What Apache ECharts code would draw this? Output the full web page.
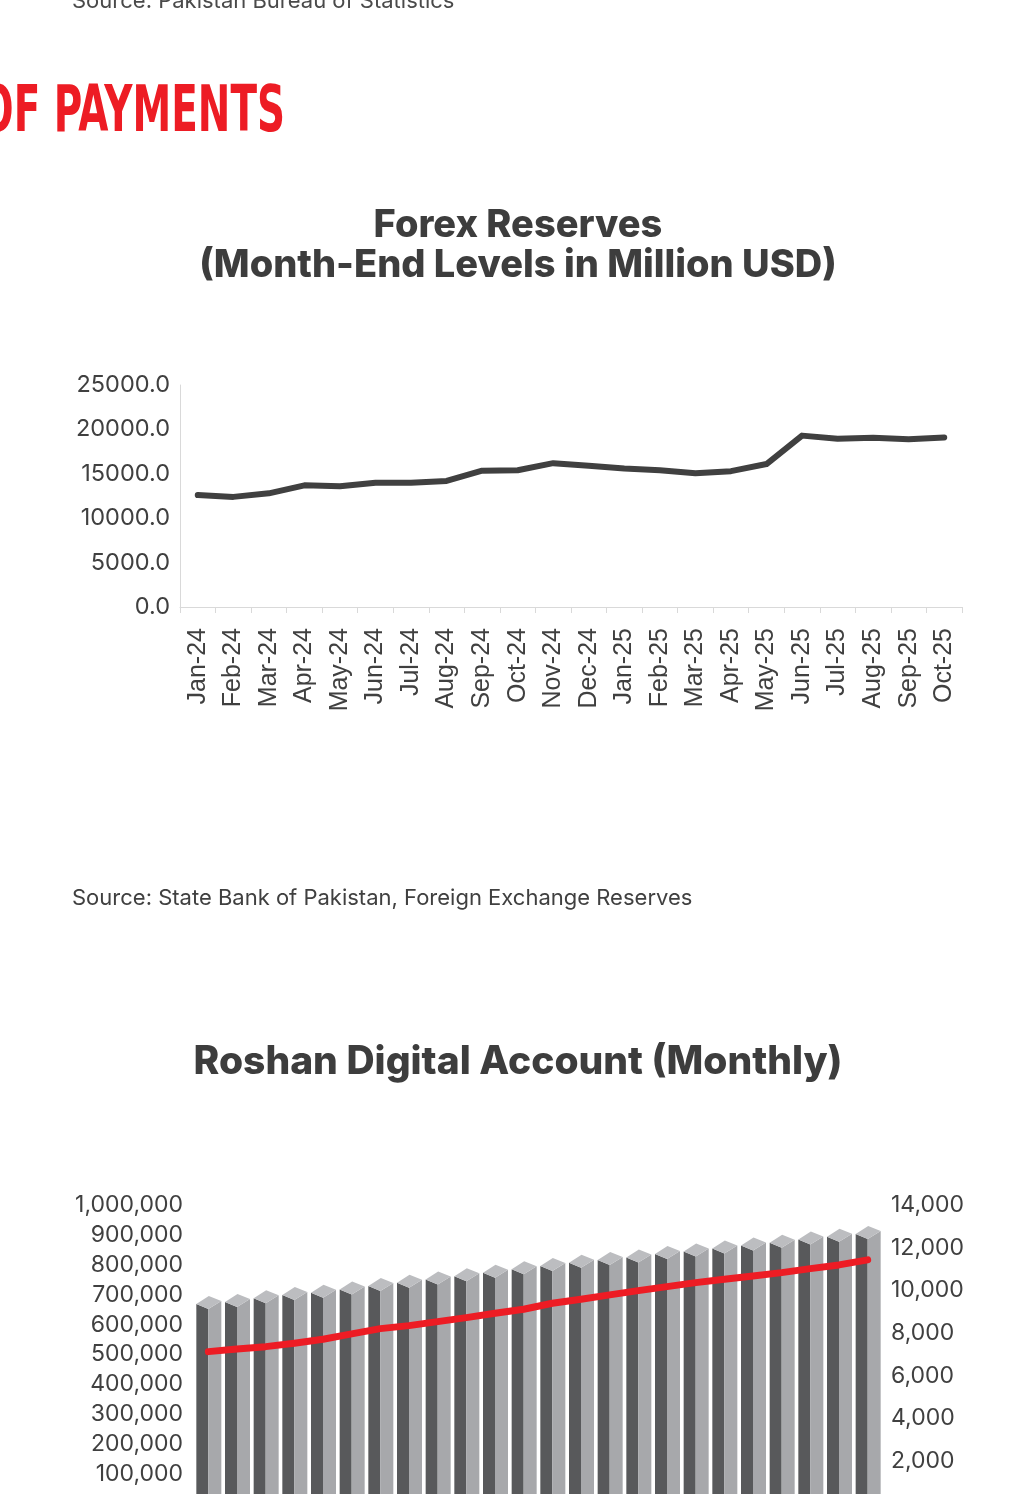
<!DOCTYPE html>
<html>
<head>
<meta charset="utf-8">
<script src="https://cdn.jsdelivr.net/npm/echarts@6/dist/echarts.min.js"></script>
<style>
  html, body { margin: 0; padding: 0; background: #fff; overflow: hidden; height: 1494px; }
  #page { width: 1036px; height: 1540px; }
</style>
</head>
<body>
<div id="page"></div>
<script>
// forex reserves, month-end, million USD
const forexMonths = ['Jan-24', 'Feb-24', 'Mar-24', 'Apr-24', 'May-24', 'Jun-24', 'Jul-24', 'Aug-24',
  'Sep-24', 'Oct-24', 'Nov-24', 'Dec-24', 'Jan-25', 'Feb-25', 'Mar-25', 'Apr-25', 'May-25',
  'Jun-25', 'Jul-25', 'Aug-25', 'Sep-25', 'Oct-25'];
const forexValues = [12600, 12400, 12800, 13700, 13600, 14000, 14000, 14200, 15350, 15400, 16200,
  15900, 15600, 15400, 15050, 15300, 16100, 19300, 18950, 19050, 18900, 19100];
const forexTicks = [0, 5000, 10000, 15000, 20000, 25000];

// roshan digital account, monthly
const rdaMonths = ['Nov-23', 'Dec-23', 'Jan-24', 'Feb-24', 'Mar-24', 'Apr-24', 'May-24', 'Jun-24',
  'Jul-24', 'Aug-24', 'Sep-24', 'Oct-24', 'Nov-24', 'Dec-24', 'Jan-25', 'Feb-25', 'Mar-25',
  'Apr-25', 'May-25', 'Jun-25', 'Jul-25', 'Aug-25', 'Sep-25', 'Oct-25'];
const rdaAccounts = [652000, 659000, 671000, 682000, 690000, 701000, 712000, 723000, 734000,
  745000, 757000, 768000, 779000, 790000, 799000, 808000, 819000, 828000, 838000, 848000,
  857000, 868000, 877000, 886000];
const rdaInflows = [7134, 7260, 7368, 7527, 7715, 7963, 8211, 8352, 8539, 8726, 8932, 9120,
  9401, 9588, 9790, 9991, 10178, 10366, 10525, 10680, 10834, 11021, 11195, 11429];

const sans = 'Inter';
const ink = '#404040';

const chart = echarts.init(document.getElementById('page'));

// 3d-ish pillar: dark left face, light right face, top lid
function pillar(params, api) {
  const top = api.coord([api.value(0), api.value(1)]);
  const base = api.coord([api.value(0), 0]);
  const cx = top[0], cy = top[1], by = base[1];
  return {
    type: 'group',
    children: [
      { type: 'polygon', shape: { points: [[cx - 12, cy - 5], [cx, cy], [cx, by], [cx - 12, by]] },
        style: { fill: '#58595b' } },
      { type: 'polygon', shape: { points: [[cx, cy], [cx + 13, cy - 8], [cx + 13, by], [cx, by]] },
        style: { fill: '#a7a8ab' } },
      { type: 'polygon', shape: { points: [[cx - 12, cy - 5], [cx + 0.5, cy - 13], [cx + 13, cy - 8], [cx, cy]] },
        style: { fill: '#bcbdc0' } }
    ]
  };
}

const comma = v => v.toLocaleString('en-US');

chart.setOption({
  animation: false,
  title: [
    {
      text: 'Forex Reserves\n(Month-End Levels in Million USD)',
      left: 'center', top: 201,
      textStyle: { fontFamily: sans, fontWeight: 800, fontSize: 38, lineHeight: 40, color: '#3d3d3d' }
    },
    {
      text: 'Roshan Digital Account (Monthly)',
      left: 'center', top: 1038,
      textStyle: { fontFamily: sans, fontWeight: 800, fontSize: 39, color: '#3d3d3d' }
    }
  ],
  graphic: [
    { type: 'text', left: 72, top: -10,
      style: { text: 'Source: Pakistan Bureau of Statistics', font: '22px Inter', fill: '#4a4a4a' } },
    { type: 'text', x: 285, y: 146, scaleX: 0.676, originX: 0, originY: 0,
      style: { text: 'OF PAYMENTS', font: 'bold 64px "DejaVu Sans Condensed"', fill: '#ed1c24',
        align: 'right', verticalAlign: 'bottom' } },
    { type: 'text', left: 72, top: 887,
      style: { text: 'Source: State Bank of Pakistan, Foreign Exchange Reserves', font: '22px Inter', fill: ink } }
  ],
  grid: [
    { left: 180, top: 385, width: 782, height: 222, outerBoundsMode: 'none' },
    { left: 194, top: 1205, width: 688, height: 299, outerBoundsMode: 'none' }
  ],
  xAxis: [
    {
      gridIndex: 0, type: 'category', data: forexMonths, boundaryGap: true,
      axisLine: { lineStyle: { color: '#d9d9d9', width: 1 } },
      axisTick: { show: true, length: 6, lineStyle: { color: '#d9d9d9' } },
      axisLabel: { rotate: 90, margin: 21, interval: 0, fontFamily: 'Liberation Sans', fontSize: 25, color: ink }
    },
    {
      gridIndex: 1, type: 'category', data: rdaMonths, boundaryGap: true,
      axisLine: { show: false }, axisTick: { show: false }, axisLabel: { show: false }
    }
  ],
  yAxis: [
    {
      gridIndex: 0, type: 'value', min: forexTicks[0], max: forexTicks[forexTicks.length - 1], interval: 5000,
      axisLine: { show: true, lineStyle: { color: '#d9d9d9' } },
      axisTick: { show: false }, splitLine: { show: false },
      axisLabel: { margin: 10, fontFamily: sans, fontSize: 23.5, color: ink, formatter: v => v.toFixed(1) }
    },
    {
      gridIndex: 1, type: 'value', min: 0, max: 1000000, interval: 100000,
      axisLine: { show: false }, axisTick: { show: false }, splitLine: { show: false },
      axisLabel: { margin: 11, fontFamily: sans, fontSize: 23, color: ink, formatter: comma }
    },
    {
      gridIndex: 1, type: 'value', position: 'right', min: 0, max: 14000, interval: 2000,
      axisLine: { show: false }, axisTick: { show: false }, splitLine: { show: false },
      axisLabel: { margin: 9, fontFamily: sans, fontSize: 23, color: ink, formatter: comma }
    }
  ],
  series: [
    {
      type: 'line', xAxisIndex: 0, yAxisIndex: 0, data: forexValues,
      showSymbol: false, symbol: 'none',
      lineStyle: { color: '#404040', width: 6, cap: 'round', join: 'round' }
    },
    {
      type: 'custom', xAxisIndex: 1, yAxisIndex: 1,
      data: rdaAccounts.map((v, i) => [i, v]),
      encode: { x: 0, y: 1 },
      renderItem: pillar
    },
    {
      type: 'line', xAxisIndex: 1, yAxisIndex: 2, data: rdaInflows, z: 10,
      showSymbol: false, symbol: 'none',
      lineStyle: { color: '#ed1c24', width: 7, cap: 'round', join: 'round' }
    }
  ]
});
</script>
</body>
</html>
